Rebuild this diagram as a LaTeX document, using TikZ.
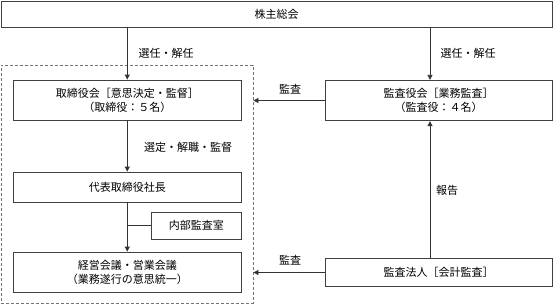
\documentclass[tikz,border=0pt]{standalone}
\usepackage{fontspec}
\setmainfont{Noto Sans CJK JP}
\usetikzlibrary{arrows.meta}
\begin{document}
\begin{tikzpicture}[x=1pt,y=-1pt,
  every node/.style={font=\fontsize{11}{14}\selectfont, text=black},
  box/.style={draw=black!75, line width=0.8pt, rectangle, inner sep=0pt, align=center},
  conn/.style={draw=black!80, line width=0.8pt},
  arr/.style={conn, -{Triangle[width=5pt,length=5pt]}},
  lbl/.style={inner sep=1pt}
]
\useasboundingbox (0,0) rectangle (554,306);
\node[draw=black!55, dashed, dash pattern=on 3pt off 2pt, line width=0.8pt, minimum width=252pt, minimum height=238pt, inner sep=0pt] (grp) at (127,184) {};
\node[box, minimum width=551pt, minimum height=26pt] (top) at (276.5,14) {株主総会};
\node[box, minimum width=228.5pt, minimum height=40pt] (board) at (127.25,100) {取締役会［意思決定・監督］\\（取締役：５名）};
\node[box, minimum width=227pt, minimum height=40.5pt] (audit) at (438.5,100.5) {監査役会［業務監査］\\（監査役：４名）};
\node[box, minimum width=228.5pt, minimum height=30pt] (ceo) at (127.25,187) {代表取締役社長};
\node[box, minimum width=90.5pt, minimum height=27pt] (naibu) at (196.25,225.5) {内部監査室};
\node[box, minimum width=228.5pt, minimum height=40pt] (keiei) at (127.25,272) {経営会議・営業会議\\（業務遂行の意思統一）};
\node[box, minimum width=227pt, minimum height=28pt] (houjin) at (438.5,272.5) {監査法人［会計監査］};
\coordinate (ra) at (430,0);
\draw[arr] (top.south -| board.north) -- (board.north);
\draw[arr] (top.south -| ra) -- (audit.north -| ra);
\draw[arr] (board.south) -- (ceo.north);
\draw[arr] (ceo.south) -- (keiei.north);
\draw[conn] (naibu.west) -- (naibu.west -| ceo.south);
\draw[arr] (audit.west) -- (audit.west -| grp.east);
\draw[arr] (houjin.west) -- (houjin.west -| grp.east);
\draw[arr] (houjin.north -| ra) -- (audit.south -| ra);
\node[lbl] (l1) at (166,53) {選任・解任};
\node[lbl] (l2) at (468,53) {選任・解任};
\node[lbl] (l3) at (188,147) {選定・解職・監督};
\node[lbl] (l4) at (290,89) {監査};
\node[lbl] (l5) at (290,260) {監査};
\node[lbl] (l6) at (447,190) {報告};
\end{tikzpicture}
\end{document}
